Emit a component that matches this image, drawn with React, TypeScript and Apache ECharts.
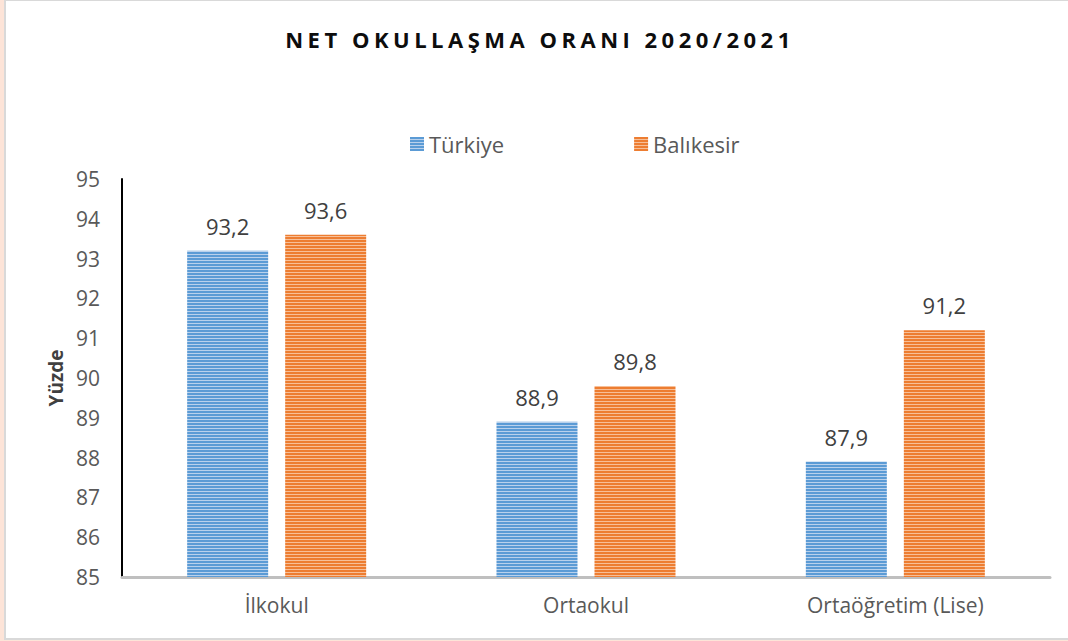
import React, { useEffect, useRef } from "react";
import * as echarts from "echarts";

const TITLE = "NET OKULLAŞMA ORANI 2020/2021";
const categories = ["İlkokul", "Ortaokul", "Ortaöğretim (Lise)"];
const seriesNames = ["Türkiye", "Balıkesir"];
const turkiyeValues = [93.2, 88.9, 87.9];
const balikesirValues = [93.6, 89.8, 91.2];
const yMin = 85;
const yMax = 95;
const yInterval = 1;

function stripePattern(main: string, light: string) {
  const c = document.createElement("canvas");
  c.width = 4;
  c.height = 3;
  const ctx = c.getContext("2d")!;
  ctx.fillStyle = main;
  ctx.fillRect(0, 0, 4, 3);
  ctx.fillStyle = light;
  ctx.fillRect(0, 2, 4, 1);
  return { image: c, repeat: "repeat" } as any;
}

export default function App() {
  const ref = useRef<HTMLDivElement>(null);
  useEffect(() => {
    document.body.style.margin = "0";
    if (!ref.current) return;
    const chart = echarts.init(ref.current, undefined, { renderer: "svg" });
    const bluePat = stripePattern("#5b9bd5", "#b9d1ec");
    const orangePat = stripePattern("#ed7d31", "#f7bf98");
    const labelFmt = (p: any) => String(p.value).replace(".", ",");
    const labelStyle = {
      show: true,
      position: "top",
      distance: 14,
      formatter: labelFmt,
      fontFamily: "Open Sans",
      fontSize: 22,
      color: "#404040",
    };
    chart.setOption({
      animation: false,
      backgroundColor: "transparent",
      graphic: [
        {
          type: "text",
          x: 540,
          y: 39,
          style: {
            text: TITLE,
            font: "bold 22px 'Open Sans'",
            fill: "#0d0d0d",
            align: "center",
            verticalAlign: "middle",
          },
        },
      ],
      legend: {
        left: 410,
        top: 133,
        padding: 0,
        itemWidth: 14,
        itemHeight: 14,
        itemGap: 130,
        icon: "rect",
        textStyle: { fontFamily: "Open Sans", fontSize: 22, color: "#595959" },
        data: seriesNames,
      },
      grid: { left: 122, right: 18, top: 179, bottom: 64, containLabel: false },
      xAxis: {
        type: "category",
        data: categories,
        axisLine: { show: true, lineStyle: { color: "#bfbfbf", width: 3 } },
        axisTick: { show: false },
        axisLabel: { fontFamily: "Open Sans", fontSize: 21, color: "#595959", margin: 17 },
      },
      yAxis: {
        type: "value",
        min: yMin,
        max: yMax,
        interval: yInterval,
        name: "Yüzde",
        nameLocation: "middle",
        nameGap: 57,
        nameTextStyle: { fontFamily: "Open Sans", fontSize: 19, fontWeight: "bold", color: "#404040" },
        axisLine: { show: true, lineStyle: { color: "#000000", width: 2 } },
        axisTick: { show: false },
        splitLine: { show: false },
        axisLabel: { fontFamily: "Open Sans", fontSize: 21, color: "#595959", margin: 22 },
      },
      series: [
        {
          name: seriesNames[0],
          type: "bar",
          data: turkiyeValues,
          barWidth: 81,
          barGap: "21%",
          itemStyle: { color: bluePat },
          label: labelStyle,
        },
        {
          name: seriesNames[1],
          type: "bar",
          data: balikesirValues,
          barWidth: 81,
          barGap: "21%",
          itemStyle: { color: orangePat },
          label: labelStyle,
        },
      ],
    });
    const texts = ref.current.querySelectorAll("text");
    texts.forEach((t) => {
      if (t.textContent === TITLE) {
        (t as any).style.letterSpacing = "4.5px";
      }
    });
    return () => chart.dispose();
  }, []);
  return (
    <div style={{ position: "relative", width: 1068, height: 641, background: "#fde4d8", overflow: "hidden" }}>
      <div
        style={{
          position: "absolute",
          left: 4,
          top: 0,
          width: 1070,
          height: 637,
          background: "#ffffff",
          borderLeft: "2px solid #d9d9d9",
          borderTop: "1px solid #d9d9d9",
          borderBottom: "2px solid #d9d9d9",
        }}
      />
      <div ref={ref} style={{ position: "absolute", left: 0, top: 0, width: 1068, height: 641 }} />
    </div>
  );
}
